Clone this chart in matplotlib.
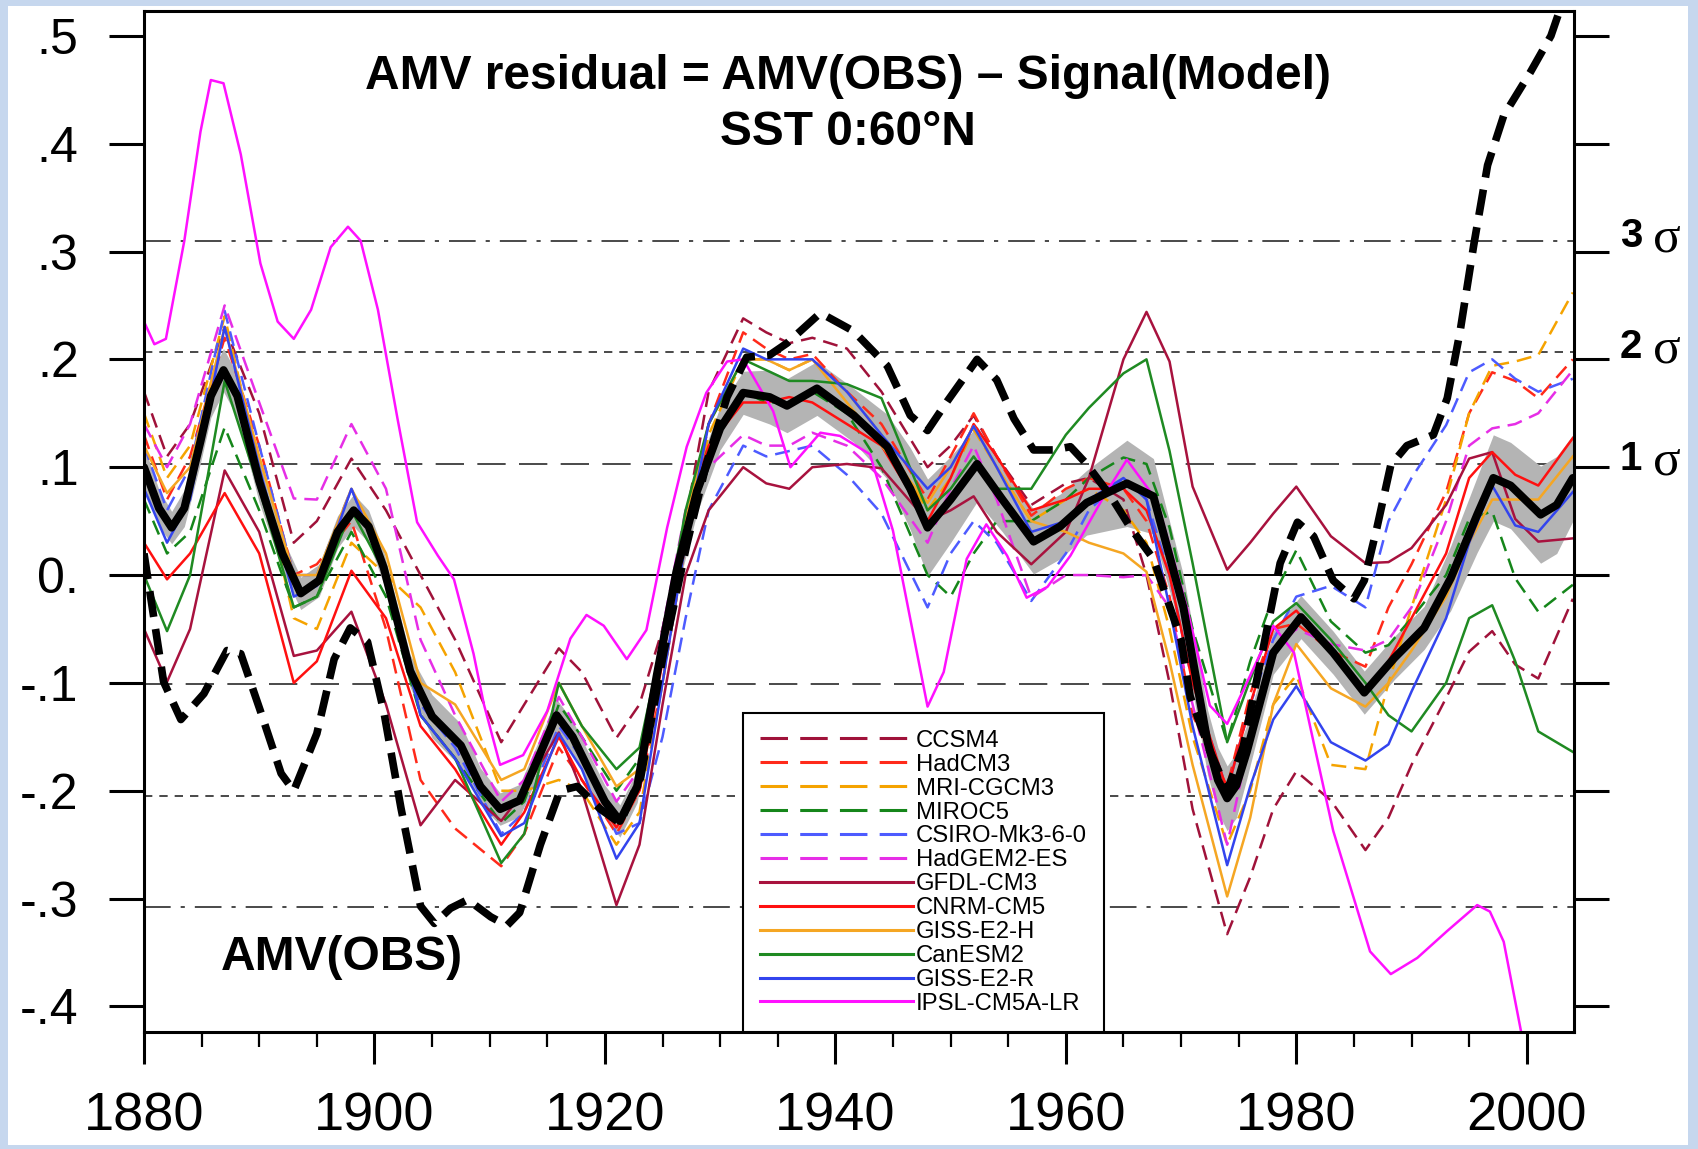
import numpy as np
import matplotlib
matplotlib.use('Agg')
import matplotlib.pyplot as plt
from matplotlib.lines import Line2D
from matplotlib.patches import Rectangle
from matplotlib.ticker import MultipleLocator, FixedLocator

plt.rcParams['font.family'] = ['Liberation Sans', 'DejaVu Sans']

# ---------------- data ----------------
model_years = [1880, 1882, 1884, 1887, 1890, 1893, 1895, 1898, 1901, 1904,
               1907, 1911, 1913, 1916, 1918, 1921, 1923, 1925, 1927, 1929,
               1932, 1934, 1936, 1938, 1941, 1944, 1948, 1950, 1952, 1954,
               1957, 1960, 1962, 1965, 1967, 1969, 1971, 1974, 1976, 1978,
               1980, 1983, 1986, 1988, 1990, 1993, 1995, 1997, 1999, 2001,
               2004]

ccsm4 = [0.17, 0.11, 0.14, 0.23, 0.15, 0.03, 0.05, 0.108, 0.06, 0.0,
         -0.06, -0.155, -0.12, -0.068, -0.09, -0.151, -0.12, -0.05, 0.05, 0.17,
         0.238, 0.225, 0.215, 0.22, 0.21, 0.17, 0.10, 0.12, 0.148, 0.11,
         0.065, 0.085, 0.09, 0.07, 0.0, -0.10, -0.217, -0.333, -0.28, -0.217,
         -0.182, -0.209, -0.255, -0.225, -0.176, -0.114, -0.071, -0.052, -0.083, -0.096,
         -0.022]
hadcm3 = [0.13, 0.07, 0.11, 0.22, 0.12, 0.0, 0.01, 0.05, -0.05, -0.19,
          -0.235, -0.27, -0.24, -0.16, -0.19, -0.24, -0.20, -0.10, 0.03, 0.14,
          0.225, 0.21, 0.20, 0.205, 0.17, 0.14, 0.07, 0.11, 0.15, 0.11,
          0.055, 0.08, 0.09, 0.08, 0.05, -0.02, -0.13, -0.196, -0.11, -0.05,
          -0.045, -0.07, -0.085, -0.03, 0.01, 0.077, 0.15, 0.188, 0.18, 0.164,
          0.20]
mri_cgcm3 = [0.15, 0.09, 0.12, 0.24, 0.10, -0.04, -0.05, 0.03, 0.0, -0.03,
             -0.09, -0.20, -0.20, -0.19, -0.20, -0.25, -0.22, -0.10, 0.03, 0.13,
             0.20, 0.20, 0.19, 0.20, 0.17, 0.13, 0.06, 0.09, 0.135, 0.10,
             0.05, 0.07, 0.08, 0.06, 0.03, -0.05, -0.15, -0.25, -0.20, -0.12,
             -0.093, -0.176, -0.18, -0.10, -0.03, 0.07, 0.15, 0.194, 0.198, 0.204,
             0.262]
miroc5 = [0.07, 0.02, 0.04, 0.137, 0.06, -0.03, -0.02, 0.04, -0.02, -0.13,
          -0.17, -0.23, -0.21, -0.12, -0.15, -0.20, -0.17, -0.06, 0.05, 0.12,
          0.17, 0.16, 0.16, 0.17, 0.15, 0.10, 0.0, -0.02, 0.02, 0.05,
          0.05, 0.07, 0.09, 0.109, 0.103, 0.044, -0.05, -0.155, -0.08, -0.02,
          0.023, -0.043, -0.072, -0.065, -0.04, 0.0, 0.052, 0.059, -0.003, -0.034,
          -0.009]
csiro = [0.12, 0.06, 0.10, 0.245, 0.12, 0.0, 0.0, 0.08, 0.0, -0.12,
         -0.16, -0.24, -0.22, -0.14, -0.17, -0.24, -0.23, -0.15, -0.04, 0.06,
         0.12, 0.11, 0.115, 0.12, 0.093, 0.057, -0.03, 0.02, 0.05, 0.03,
         -0.024, 0.02, 0.06, 0.09, 0.07, 0.0, -0.10, -0.20, -0.12, -0.06,
         -0.02, -0.01, -0.03, 0.05, 0.09, 0.139, 0.188, 0.20, 0.182, 0.17,
         0.182]
hadgem2 = [0.14, 0.10, 0.14, 0.25, 0.16, 0.071, 0.07, 0.14, 0.08, -0.06,
           -0.13, -0.21, -0.19, -0.113, -0.15, -0.21, -0.18, -0.05, 0.06, 0.10,
           0.13, 0.12, 0.12, 0.132, 0.12, 0.09, 0.03, 0.08, 0.12, 0.07,
           -0.021, 0.0, 0.0, -0.002, 0.0, -0.03, -0.12, -0.25, -0.15, -0.07,
           -0.05, -0.064, -0.07, -0.06, -0.03, 0.05, 0.12, 0.136, 0.14, 0.15,
           0.19]
gfdl = [-0.05, -0.099, -0.05, 0.097, 0.04, -0.075, -0.07, -0.034, -0.12, -0.232,
        -0.19, -0.228, -0.20, -0.146, -0.20, -0.306, -0.25, -0.12, 0.0, 0.06,
        0.10, 0.085, 0.08, 0.10, 0.103, 0.099, 0.05, 0.06, 0.073, 0.04,
        0.01, 0.04, 0.09, 0.20, 0.244, 0.198, 0.082, 0.005, 0.03, 0.057,
        0.082, 0.036, 0.011, 0.012, 0.025, 0.065, 0.108, 0.114, 0.052, 0.031,
        0.034]
cnrm = [0.03, -0.004, 0.02, 0.076, 0.02, -0.10, -0.08, 0.004, -0.04, -0.14,
        -0.18, -0.25, -0.22, -0.15, -0.19, -0.234, -0.20, -0.08, 0.05, 0.12,
        0.16, 0.16, 0.165, 0.16, 0.14, 0.12, 0.05, 0.09, 0.14, 0.11,
        0.06, 0.07, 0.08, 0.08, 0.06, 0.0, -0.10, -0.20, -0.12, -0.05,
        -0.033, -0.07, -0.11, -0.08, -0.04, 0.02, 0.09, 0.114, 0.093, 0.083,
        0.127]
giss_h = [0.12, 0.076, 0.10, 0.23, 0.11, 0.0, 0.0, 0.08, 0.02, -0.10,
          -0.12, -0.19, -0.18, -0.10, -0.14, -0.196, -0.18, -0.07, 0.05, 0.14,
          0.20, 0.20, 0.19, 0.20, 0.16, 0.12, 0.067, 0.10, 0.138, 0.10,
          0.05, 0.04, 0.03, 0.02, 0.003, -0.08, -0.176, -0.298, -0.225, -0.12,
          -0.064, -0.105, -0.122, -0.10, -0.07, -0.02, 0.03, 0.07, 0.07, 0.07,
          0.11]
canesm2 = [0.0, -0.052, 0.0, 0.18, 0.08, -0.03, -0.02, 0.06, 0.0, -0.13,
           -0.17, -0.267, -0.24, -0.10, -0.14, -0.18, -0.16, -0.06, 0.06, 0.14,
           0.20, 0.19, 0.18, 0.18, 0.177, 0.164, 0.06, 0.08, 0.11, 0.08,
           0.08, 0.13, 0.155, 0.187, 0.20, 0.115, 0.011, -0.155, -0.097, -0.043,
           -0.026, -0.06, -0.10, -0.13, -0.145, -0.10, -0.04, -0.028, -0.08, -0.145,
           -0.164]
giss_r = [0.08, 0.03, 0.07, 0.23, 0.10, -0.02, -0.01, 0.08, 0.0, -0.13,
          -0.17, -0.242, -0.23, -0.147, -0.18, -0.263, -0.23, -0.10, 0.03, 0.14,
          0.21, 0.20, 0.20, 0.20, 0.17, 0.13, 0.08, 0.10, 0.138, 0.10,
          0.04, 0.05, 0.07, 0.09, 0.07, -0.03, -0.14, -0.269, -0.196, -0.134,
          -0.103, -0.155, -0.172, -0.157, -0.108, -0.04, 0.03, 0.083, 0.046, 0.04,
          0.077]

ipsl_years = [1880, 1880.9, 1881.9, 1883.5, 1884.9, 1885.8, 1886.9, 1888.4, 1890.1, 1891.6,
              1893, 1894.5, 1896.2, 1897.7, 1898.8, 1900.3, 1902, 1903.7, 1905.5, 1906.9,
              1908.6, 1909.5, 1910.9, 1912.9, 1915, 1917, 1918.4, 1919.9, 1921.9, 1923.6,
              1925.4, 1927.1, 1928.8, 1930.6, 1932, 1934.6, 1936.1, 1938.7, 1940.4, 1943,
              1945, 1946.8, 1948, 1949.4, 1951.4, 1953.1, 1954.9, 1956.6, 1958.4, 1960.4,
              1963.3, 1965.3, 1967.9, 1970.5, 1972.5, 1974, 1975.7, 1978, 1979.8, 1981.5,
              1983.2, 1985, 1986.4, 1988.2, 1990.5, 1993.1, 1995.7, 1996.8, 1998, 1999.7,
              2001]
ipsl = [0.235, 0.214, 0.219, 0.31, 0.411, 0.459, 0.456, 0.39, 0.289, 0.235,
        0.219, 0.246, 0.304, 0.323, 0.31, 0.246, 0.145, 0.049, 0.018, -0.004,
        -0.073, -0.12, -0.176, -0.167, -0.126, -0.059, -0.037, -0.047, -0.078, -0.051,
        0.044, 0.119, 0.169, 0.198, 0.20, 0.152, 0.10, 0.132, 0.129, 0.112,
        0.041, -0.057, -0.122, -0.09, 0.015, 0.047, 0.018, -0.021, -0.011, 0.018,
        0.073, 0.107, 0.069, -0.03, -0.121, -0.138, -0.10, -0.047, -0.072, -0.155,
        -0.237, -0.30, -0.349, -0.37, -0.355, -0.33, -0.306, -0.312, -0.34, -0.434,
        -0.50]

model_names = ["CCSM4", "HadCM3", "MRI-CGCM3", "MIROC5", "CSIRO-Mk3-6-0", "HadGEM2-ES",
               "GFDL-CM3", "CNRM-CM5", "GISS-E2-H", "CanESM2", "GISS-E2-R", "IPSL-CM5A-LR"]

mean_years = [1880, 1881.3, 1882.4, 1883.5, 1884.9, 1885.8, 1886.9, 1888.1, 1890, 1892,
              1893.6, 1895.2, 1896.8, 1898.2, 1899.5, 1900.8, 1903.1, 1905, 1907.5, 1909.2,
              1910.9, 1912.6, 1914.2, 1915.8, 1917.2, 1918.4, 1920, 1921.3, 1922.8, 1924.5,
              1926.2, 1928, 1930, 1932, 1934.3, 1935.8, 1938.4, 1941.6, 1944.5, 1946.5,
              1948, 1950, 1952.3, 1954.5, 1957.2, 1959.5, 1961.8, 1965.3, 1967.6, 1970.2,
              1972.3, 1973.2, 1974, 1974.8, 1975.7, 1978, 1980.4, 1983.2, 1985.9, 1988.5,
              1991.1, 1993.4, 1995.7, 1997.1, 1998.6, 2001.2, 2002.6, 2004]
mean_vals = [0.10, 0.062, 0.044, 0.062, 0.124, 0.166, 0.19, 0.166, 0.087, 0.02,
             -0.017, -0.005, 0.04, 0.06, 0.045, 0.007, -0.089, -0.131, -0.158, -0.196,
             -0.217, -0.209, -0.17, -0.13, -0.15, -0.176, -0.21, -0.228, -0.196, -0.093,
             0.003, 0.078, 0.136, 0.169, 0.165, 0.157, 0.173, 0.148, 0.119, 0.08,
             0.044, 0.07, 0.103, 0.07, 0.031, 0.045, 0.067, 0.085, 0.073, -0.03,
             -0.155, -0.19, -0.207, -0.195, -0.164, -0.072, -0.039, -0.072, -0.109, -0.077,
             -0.049, -0.003, 0.056, 0.09, 0.083, 0.056, 0.065, 0.09]
mean_spread = [0.02, 0.017, 0.015, 0.017, 0.02, 0.02, 0.02, 0.02, 0.02, 0.015,
               0.015, 0.015, 0.015, 0.015, 0.015, 0.015, 0.015, 0.02, 0.02, 0.017,
               0.015, 0.015, 0.015, 0.015, 0.015, 0.015, 0.015, 0.015, 0.015, 0.015,
               0.02, 0.02, 0.02, 0.02, 0.025, 0.025, 0.025, 0.025, 0.03, 0.038,
               0.045, 0.04, 0.035, 0.03, 0.03, 0.03, 0.03, 0.04, 0.035, 0.03,
               0.03, 0.03, 0.03, 0.03, 0.025, 0.02, 0.02, 0.02, 0.02, 0.02,
               0.02, 0.03, 0.035, 0.04, 0.04, 0.045, 0.045, 0.04]

obs_years = [1880, 1881.7, 1883.2, 1885.2, 1887.2, 1888.4, 1890.1, 1891.9, 1893, 1895,
             1896.5, 1897.9, 1899.4, 1900.8, 1902.3, 1904, 1905.2, 1906.6, 1908.1, 1910.1,
             1911.5, 1912.6, 1914.4, 1916.1, 1917.6, 1919.6, 1921.3, 1923.1, 1925.1, 1927.1,
             1928.8, 1930.6, 1932.3, 1934.3, 1935.8, 1938.7, 1941.6, 1944.5, 1946.5, 1948,
             1949.7, 1952.3, 1954, 1955.5, 1957.2, 1958.9, 1960.4, 1961.8, 1963.9, 1965.6,
             1967.6, 1970, 1970.8, 1972.5, 1974, 1975.4, 1977.2, 1978.6, 1980.1, 1981.5,
             1983.2, 1985, 1985.9, 1987, 1988.2, 1989.6, 1991.9, 1993.1, 1994.2, 1995.4,
             1996.6, 1998, 2000.3, 2002.1, 2003]
obs_vals = [0.02, -0.099, -0.134, -0.11, -0.07, -0.073, -0.126, -0.184, -0.20, -0.147,
            -0.078, -0.049, -0.062, -0.126, -0.216, -0.307, -0.323, -0.309, -0.301, -0.317,
            -0.325, -0.313, -0.25, -0.20, -0.196, -0.217, -0.23, -0.188, -0.072, 0.028,
            0.103, 0.165, 0.202, 0.204, 0.215, 0.243, 0.226, 0.194, 0.148, 0.134,
            0.161, 0.20, 0.181, 0.145, 0.116, 0.116, 0.119, 0.103, 0.073, 0.044,
            0.015, -0.06, -0.113, -0.163, -0.20, -0.159, -0.064, 0.011, 0.049, 0.036,
            -0.005, -0.022, -0.005, 0.044, 0.102, 0.12, 0.13, 0.164, 0.225, 0.306,
            0.38, 0.426, 0.466, 0.50, 0.528]

sigma_levels = [0.310, 0.207, 0.1034, -0.1014, -0.205, -0.308]
sigma_labels = ["3", "2", "1"]
ytick_vals = [0.5, 0.4, 0.3, 0.2, 0.1, 0.0, -0.1, -0.2, -0.3, -0.4]
ytick_labels = [".5", ".4", ".3", ".2", ".1", "0.", "-.1", "-.2", "-.3", "-.4"]
xtick_vals = [1880, 1900, 1920, 1940, 1960, 1980, 2000]

# ---------------- styles ----------------
model_series = [(model_years, ccsm4), (model_years, hadcm3), (model_years, mri_cgcm3),
                (model_years, miroc5), (model_years, csiro), (model_years, hadgem2),
                (model_years, gfdl), (model_years, cnrm), (model_years, giss_h),
                (model_years, canesm2), (model_years, giss_r), (ipsl_years, ipsl)]
model_colors = ['#a0123a', '#ff2a1a', '#f5a300', '#15861a', '#4d5bff', '#e62ee6',
                '#a8123e', '#ff1010', '#f5a623', '#1f8a22', '#3344ee', '#ff10ff']
model_dashed = [True] * 6 + [False] * 6

W, H = 1698, 1149
fig = plt.figure(figsize=(W / 100, H / 100), dpi=100)
fig.patch.set_facecolor('#c6d7ee')
fig.patches.append(Rectangle((8 / W, 4 / H), (1688 - 8) / W, (1143 - 4) / H,
                             transform=fig.transFigure, facecolor='white',
                             edgecolor='none', zorder=-5))

L, R, T, B = 144, 1574, 11, 1032
ax = fig.add_axes([L / W, 1 - B / H, (R - L) / W, (B - T) / H])
ax.set_facecolor('white')
ax.set_xlim(1880, 2004.1)
ax.set_ylim(-0.4237, 0.523)

# sigma lines and zero line
sig_styles = {3: (0, (16, 6, 2.5, 6)), 2: (0, (5, 4.2)), 1: (0, (17, 8))}
for lev, n in zip(sigma_levels, [3, 2, 1, 1, 2, 3]):
    ax.axhline(lev, color='#2a2a2a', lw=1.2, linestyle=sig_styles[n], zorder=1)
ax.axhline(0.0, color='black', lw=1.4, zorder=1)

# ensemble spread band
mv = np.array(mean_vals)
sp = np.array(mean_spread)
ax.fill_between(mean_years, mv - sp, mv + sp, color='#b4b4b4', lw=0, zorder=2)

# models
for (yrs, vals), col, dsh in zip(model_series, model_colors, model_dashed):
    ls = (0, (6, 3.2)) if dsh else '-'
    ax.plot(yrs, vals, color=col, lw=1.8, linestyle=ls, zorder=3,
            solid_joinstyle='round', dash_joinstyle='round')

# ensemble mean
ax.plot(mean_years, mean_vals, color='black', lw=5.8, zorder=4,
        solid_joinstyle='round', solid_capstyle='round')
# observations
ax.plot(obs_years, obs_vals, color='black', lw=5.5, linestyle=(0, (3.4, 1.6)),
        zorder=5, dash_capstyle='butt', dash_joinstyle='round', clip_on=True)

# axes styling
for s in ax.spines.values():
    s.set_linewidth(2.2)
    s.set_zorder(6)
ax.yaxis.set_major_locator(FixedLocator(ytick_vals))
ax.set_yticklabels(ytick_labels)
ax.xaxis.set_major_locator(FixedLocator(xtick_vals))
ax.xaxis.set_minor_locator(MultipleLocator(5))
ax.tick_params(axis='y', which='major', direction='out', length=25, width=2.2,
               left=True, right=True, labelleft=True, labelright=False,
               labelsize=36, pad=22)
ax.tick_params(axis='x', which='major', direction='out', length=23, width=2.2,
               top=False, labelsize=39, pad=20)
ax.tick_params(axis='x', which='minor', direction='out', length=11, width=1.6,
               top=False)

# titles / annotations
ax.text(0.492, 0.936, "AMV residual = AMV(OBS) \u2013 Signal(Model)",
        transform=ax.transAxes, ha='center', va='center', fontsize=34.5,
        fontweight='bold', zorder=7)
ax.text(0.492, 0.881, "SST 0:60\u00b0N", transform=ax.transAxes, ha='center',
        va='center', fontsize=34.5, fontweight='bold', zorder=7)
ax.text(1886.7, -0.355, "AMV(OBS)", ha='left', va='center', fontsize=34.5,
        fontweight='bold', zorder=7)

for lab, lev in zip(sigma_labels, sigma_levels[:3]):
    ax.text(1.032, lev + 0.004, lab, transform=ax.get_yaxis_transform(),
            ha='left', va='center', fontsize=29, fontweight='bold', clip_on=False)
    ax.text(1.055, lev + 0.001, "\u03c3", transform=ax.get_yaxis_transform(),
            ha='left', va='center', fontsize=37, family=['Liberation Serif', 'DejaVu Serif'],
            clip_on=False)

# legend
handles = []
for name, col, dsh in zip(model_names, model_colors, model_dashed):
    ls = (0, (9, 4)) if dsh else '-'
    handles.append(Line2D([0], [0], color=col, lw=2.2, linestyle=ls))
leg = ax.legend(handles, model_names, loc='lower left', bbox_to_anchor=(0.419, 0.0),
                borderaxespad=0, fontsize=17.2, handlelength=6.4, handletextpad=0.1,
                labelspacing=0.08, borderpad=0.72, frameon=True, fancybox=False,
                framealpha=1, edgecolor='black')
leg.get_frame().set_linewidth(1.5)
leg.set_zorder(8)

fig.savefig('out.png', dpi=100, facecolor=fig.get_facecolor())
